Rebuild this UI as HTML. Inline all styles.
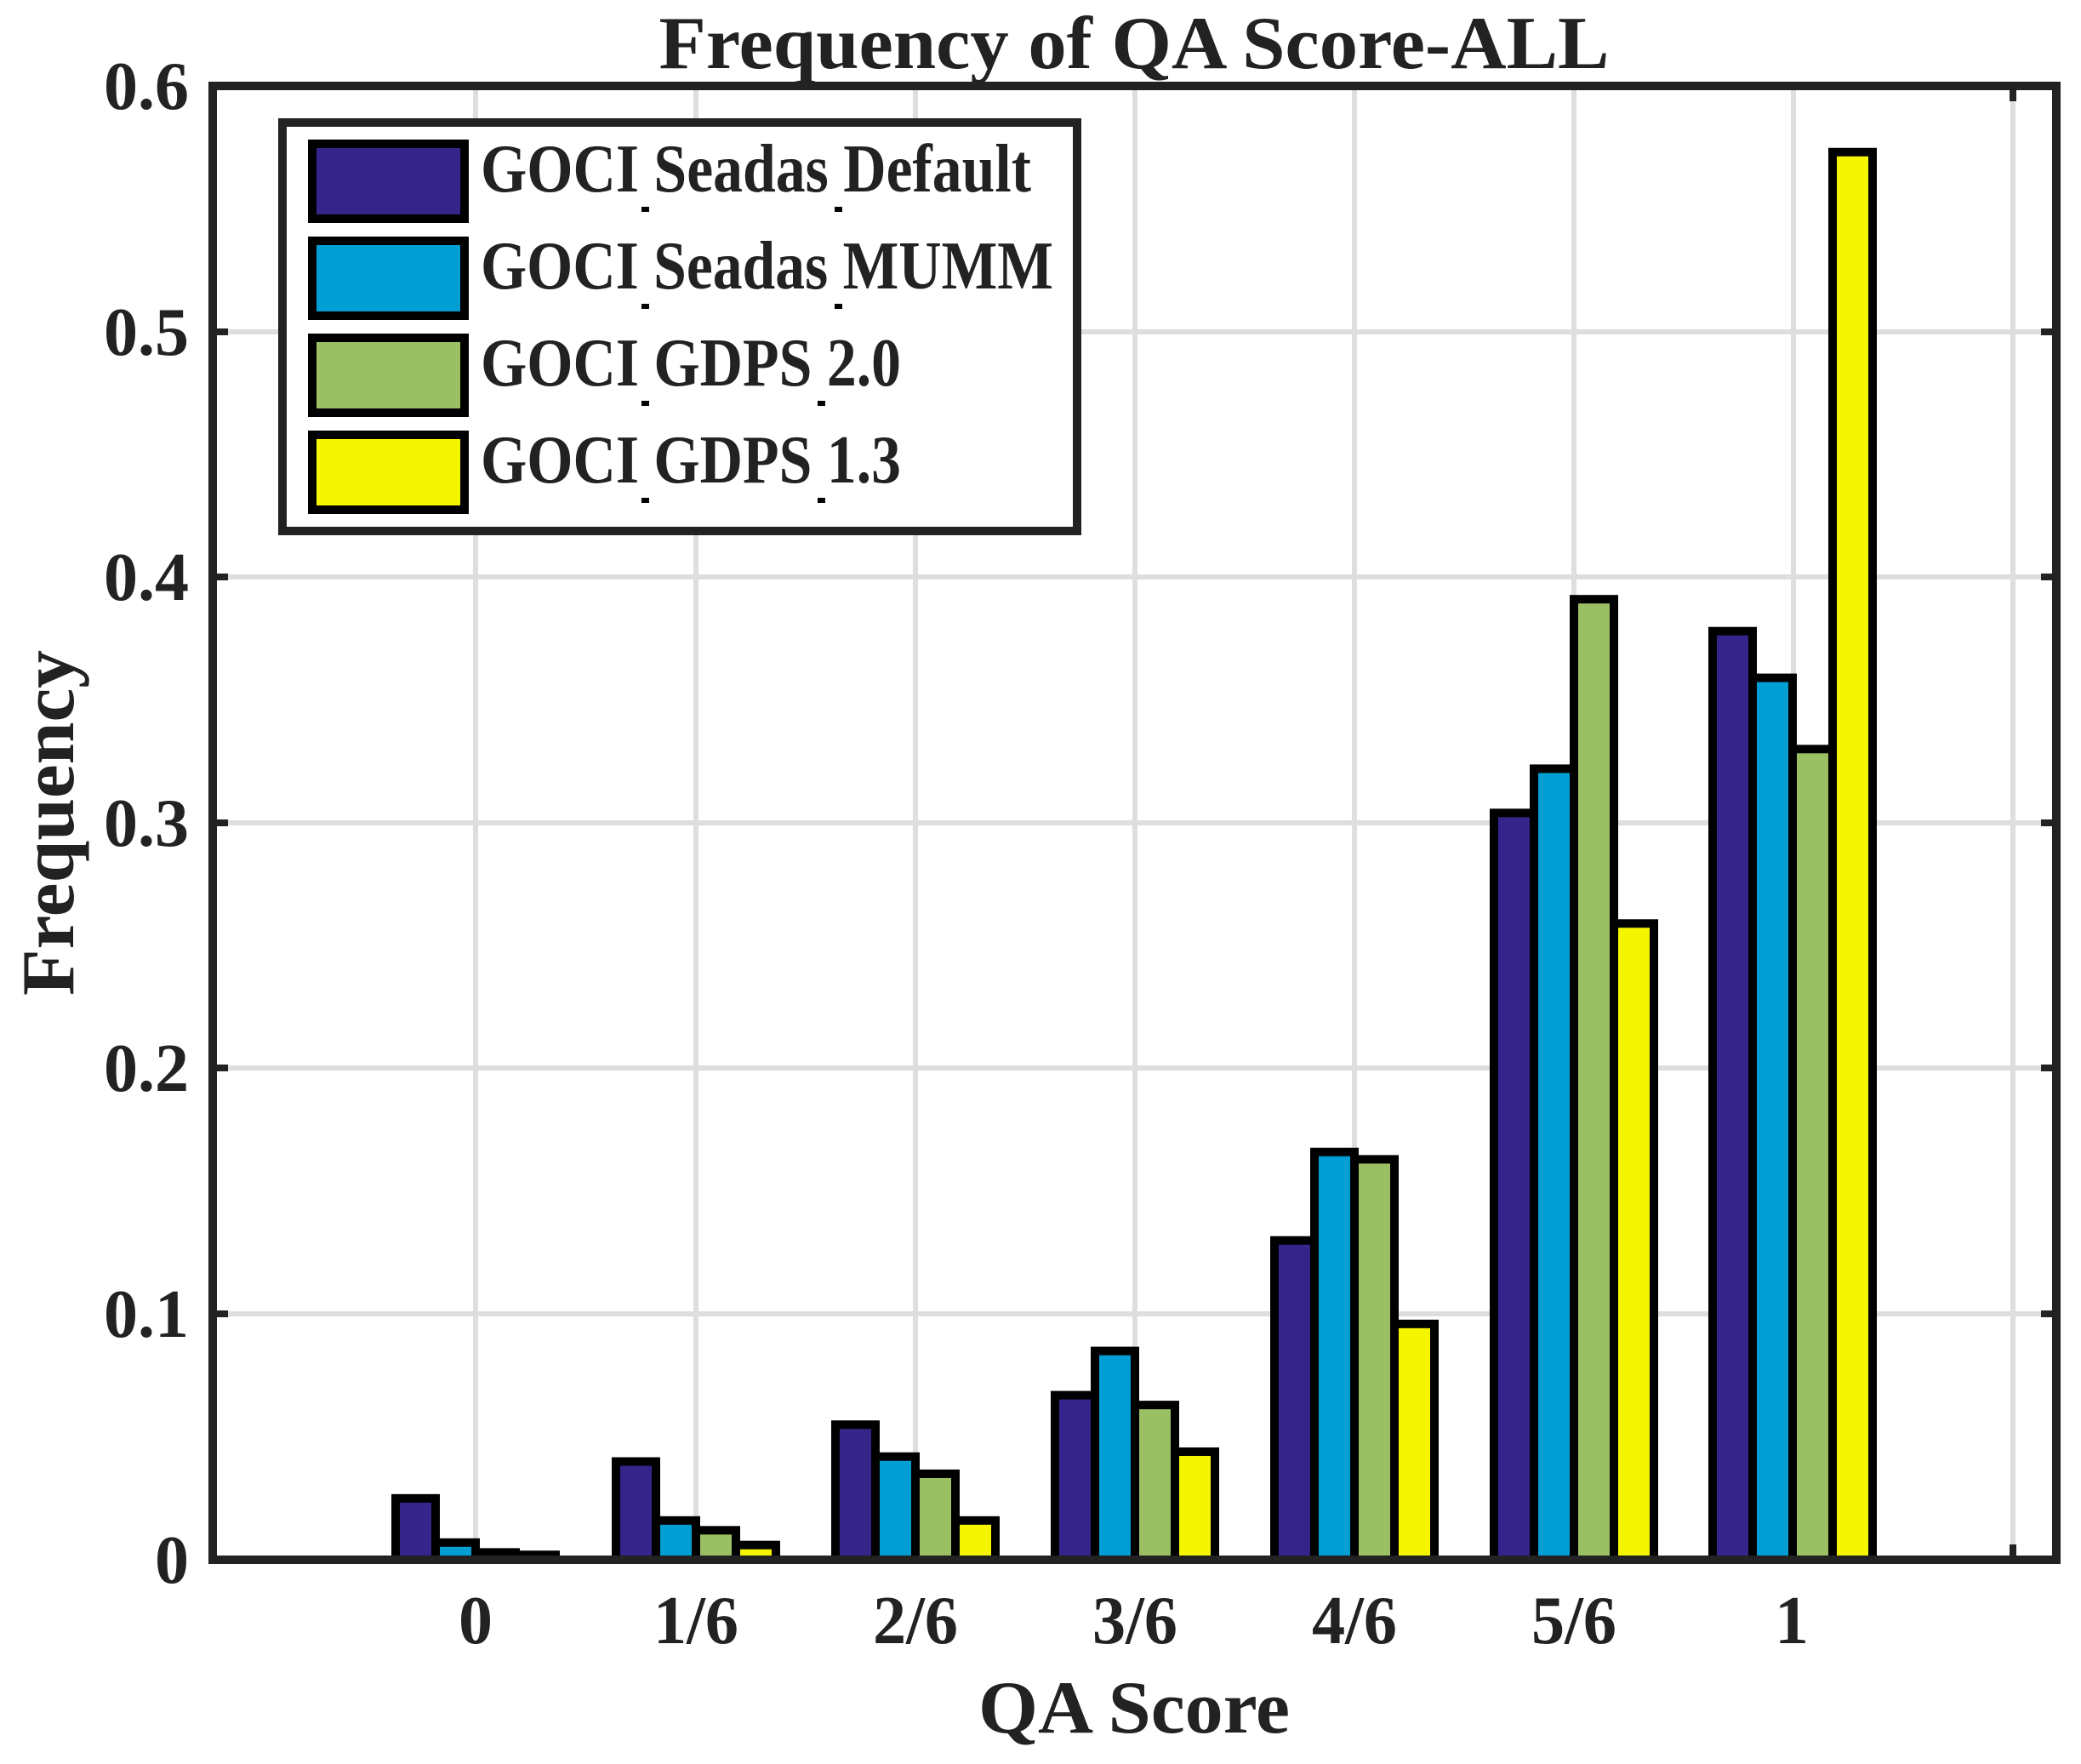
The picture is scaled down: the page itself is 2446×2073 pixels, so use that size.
<!DOCTYPE html>
<html><head><style>body{margin:0;background:#fff}svg{display:block}</style></head>
<body>
<svg width="2446" height="2073" viewBox="0 0 2446 2073" xmlns="http://www.w3.org/2000/svg" font-family="Liberation Serif, serif" font-weight="bold" fill="#222">
<rect width="2446" height="2073" fill="#fff"/>
<g stroke="#dedede" stroke-width="6">
<line x1="250" x2="2417" y1="1544" y2="1544"/><line x1="250" x2="2417" y1="1255" y2="1255"/><line x1="250" x2="2417" y1="967" y2="967"/><line x1="250" x2="2417" y1="678" y2="678"/><line x1="250" x2="2417" y1="390" y2="390"/>
<line x1="559" x2="559" y1="101" y2="1833"/><line x1="818" x2="818" y1="101" y2="1833"/><line x1="1076" x2="1076" y1="101" y2="1833"/><line x1="1334" x2="1334" y1="101" y2="1833"/><line x1="1592" x2="1592" y1="101" y2="1833"/><line x1="1850" x2="1850" y1="101" y2="1833"/><line x1="2108" x2="2108" y1="101" y2="1833"/><line x1="2366" x2="2366" y1="101" y2="1833"/>
</g>
<g id="bars" stroke="#000" stroke-width="10"></g>
<g stroke="#222" stroke-width="8">
<line x1="250" x2="268" y1="1544" y2="1544"/><line x1="250" x2="268" y1="1255" y2="1255"/><line x1="250" x2="268" y1="967" y2="967"/><line x1="250" x2="268" y1="678" y2="678"/><line x1="250" x2="268" y1="390" y2="390"/>
<line x1="2399" x2="2417" y1="1544" y2="1544"/><line x1="2399" x2="2417" y1="1255" y2="1255"/><line x1="2399" x2="2417" y1="967" y2="967"/><line x1="2399" x2="2417" y1="678" y2="678"/><line x1="2399" x2="2417" y1="390" y2="390"/>
<line x1="2366" x2="2366" y1="1833" y2="1815"/><line x1="2366" x2="2366" y1="101" y2="119"/>
</g>
<rect x="250" y="101" width="2167" height="1732" fill="none" stroke="#222" stroke-width="10"/>
<!-- legend -->
<rect x="332" y="144" width="934" height="480" fill="#fff" stroke="#222" stroke-width="10"/>
<g stroke="#000" stroke-width="10">
<rect x="367" y="169" width="179" height="88" fill="#35258a"/>
<rect x="367" y="283" width="179" height="88" fill="#009ed2"/>
<rect x="367" y="397" width="179" height="88" fill="#9bc064"/>
<rect x="367" y="511" width="179" height="88" fill="#f5f500"/>
</g>
<g font-size="80">
<text x="565" y="225" textLength="647" lengthAdjust="spacingAndGlyphs">GOCI Seadas Default</text>
<text x="565" y="339" textLength="673" lengthAdjust="spacingAndGlyphs">GOCI Seadas MUMM</text>
<text x="565" y="453" textLength="494" lengthAdjust="spacingAndGlyphs">GOCI GDPS 2.0</text>
<text x="565" y="567" textLength="494" lengthAdjust="spacingAndGlyphs">GOCI GDPS 1.3</text>
</g>
<g fill="#000">
<rect x="754" y="243" width="9" height="6"/><rect x="981" y="243" width="9" height="6"/>
<rect x="754" y="357" width="9" height="6"/><rect x="981" y="357" width="9" height="6"/>
<rect x="754" y="471" width="9" height="6"/><rect x="961" y="471" width="9" height="6"/>
<rect x="754" y="585" width="9" height="6"/><rect x="961" y="585" width="9" height="6"/>
</g>
<!-- tick labels -->
<g font-size="80" text-anchor="end">
<text x="222" y="1860">0</text>
<text x="222" y="1571" textLength="100" lengthAdjust="spacingAndGlyphs">0.1</text>
<text x="222" y="1282" textLength="100" lengthAdjust="spacingAndGlyphs">0.2</text>
<text x="222" y="994" textLength="100" lengthAdjust="spacingAndGlyphs">0.3</text>
<text x="222" y="705" textLength="100" lengthAdjust="spacingAndGlyphs">0.4</text>
<text x="222" y="417" textLength="100" lengthAdjust="spacingAndGlyphs">0.5</text>
<text x="222" y="128" textLength="100" lengthAdjust="spacingAndGlyphs">0.6</text>
</g>
<g font-size="80" text-anchor="middle">
<text x="559" y="1931">0</text>
<text x="818" y="1931" textLength="100" lengthAdjust="spacingAndGlyphs">1/6</text>
<text x="1076" y="1931" textLength="100" lengthAdjust="spacingAndGlyphs">2/6</text>
<text x="1334" y="1931" textLength="100" lengthAdjust="spacingAndGlyphs">3/6</text>
<text x="1592" y="1931" textLength="100" lengthAdjust="spacingAndGlyphs">4/6</text>
<text x="1850" y="1931" textLength="100" lengthAdjust="spacingAndGlyphs">5/6</text>
<text x="2106" y="1931">1</text>
</g>
<text x="1333" y="2036" font-size="88" text-anchor="middle" textLength="366" lengthAdjust="spacingAndGlyphs">QA Score</text>
<text x="1333" y="80" font-size="88" text-anchor="middle" textLength="1117" lengthAdjust="spacingAndGlyphs">Frequency of QA Score-ALL</text>
<text transform="translate(86,967) rotate(-90)" font-size="88" text-anchor="middle" textLength="406" lengthAdjust="spacingAndGlyphs">Frequency</text>
</svg>
<script>
(function(){
var data=[[0.025,0.007,0.003,0.002],[0.04,0.016,0.012,0.006],[0.055,0.042,0.035,0.016],[0.067,0.085,0.063,0.044],[0.13,0.166,0.163,0.096],[0.304,0.322,0.391,0.259],[0.378,0.359,0.33,0.573]];
var cols=["#35258a","#009ed2","#9bc064","#f5f500"];
var centers=[559,818,1076,1334,1592,1850,2107];
var g=document.getElementById("bars"),ns="http://www.w3.org/2000/svg";
data.forEach(function(d,i){
 d.forEach(function(v,j){
  var x=centers[i]-94+j*47, y=1833-v*2887;
  var r=document.createElementNS(ns,"rect");
  r.setAttribute("x",x);r.setAttribute("y",y);r.setAttribute("width",47);r.setAttribute("height",1833-y);
  r.setAttribute("fill",cols[j]);g.appendChild(r);
 });
});
})();
</script>
</body></html>
